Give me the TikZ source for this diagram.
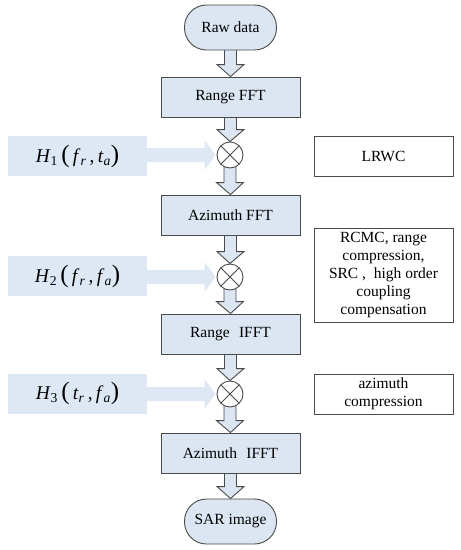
\documentclass[tikz,border=0pt]{standalone}
\usepackage{fontspec}
\setmainfont{Liberation Serif}
\usetikzlibrary{calc}
\pgfdeclarelayer{background}
\pgfsetlayers{background,main}
\definecolor{boxfill}{HTML}{DCE6F2}
\definecolor{hfill}{HTML}{DEE8F4}
\definecolor{boxline}{HTML}{4A4A4A}
\tikzset{
  txt/.style={font=\fontsize{15.5}{18}\selectfont, align=center, inner sep=0pt},
  stepbox/.style={txt, draw=boxline, line width=0.9pt, fill=boxfill, minimum width=139pt, minimum height=40pt},
  termbox/.style={txt, draw=boxline, line width=0.9pt, fill=boxfill, minimum width=92pt, minimum height=45pt, rounded corners=22pt},
  notebox/.style={txt, draw=boxline, line width=0.9pt, fill=white, minimum width=139pt, minimum height=40pt},
  hbox/.style={fill=hfill, minimum width=139pt, minimum height=40pt, inner sep=0pt, font=\fontsize{19.5}{22}\selectfont},
  mult/.style={circle, draw=boxline, line width=0.9pt, fill=white, minimum size=26pt, inner sep=0pt,
    path picture={\draw[boxline, line width=0.9pt] (path picture bounding box.north west) -- (path picture bounding box.south east)
      (path picture bounding box.north east) -- (path picture bounding box.south west);}},
  barrowline/.style={draw=boxline, line width=0.9pt, line join=miter},
}
\newcommand\blockdown[2]{%
  \begin{pgfonlayer}{background}
  \fill[boxfill] let \p1=(#1.center), \p2=(#2.north) in
    (\x1-6pt,\y1) -- (\x1-6pt,\y2+12pt) -- (\x1-13.5pt,\y2+12pt) -- (\x2,\y2)
    -- (\x1+13.5pt,\y2+12pt) -- (\x1+6pt,\y2+12pt) -- (\x1+6pt,\y1) -- cycle;
  \draw[barrowline] let \p1=(#1.center), \p2=(#2.north) in
    (\x1-6pt,\y1) -- (\x1-6pt,\y2+12pt) -- (\x1-13.5pt,\y2+12pt) -- (\x2,\y2)
    -- (\x1+13.5pt,\y2+12pt) -- (\x1+6pt,\y2+12pt) -- (\x1+6pt,\y1);
  \end{pgfonlayer}}
\newcommand\blockright[2]{%
  \begin{pgfonlayer}{background}
  \fill[hfill] let \p1=(#1.center), \p2=(#2.west) in
    (\x1,\y2+7pt) -- (\x2-12pt,\y2+7pt) -- (\x2-12pt,\y2+15pt) -- (\x2-1pt,\y2)
    -- (\x2-12pt,\y2-15pt) -- (\x2-12pt,\y2-7pt) -- (\x1,\y2-7pt) -- cycle;
  \end{pgfonlayer}}
\newcommand\bigparen[1]{{\fontsize{25}{25}\selectfont #1}}
\begin{document}
\begin{tikzpicture}[x=1pt, y=-1pt]
\useasboundingbox (0,0) rectangle (461,550);
\node[termbox] (raw) at (230.5,27.5) {Raw data};
\node[stepbox] (rfft) at (230.5,97) {Range FFT};
\node[mult] (m1) at (230,155) {};
\node[hbox] (h1) at (77.5,156) {\textit{H}\textsubscript{1}\,\bigparen{(}\,\textit{f}\textsubscript{\textit{r}}\,,\,\textit{t}\textsubscript{\textit{a}}\bigparen{)}};
\node[notebox] (lrwc) at (383.5,156) {LRWC};
\node[stepbox] (afft) at (230.5,215) {Azimuth FFT};
\node[mult] (m2) at (230,277) {};
\node[hbox] (h2) at (77.5,276) {\textit{H}\textsubscript{2}\,\bigparen{(}\,\textit{f}\textsubscript{\textit{r}}\,,\,\textit{f}\textsubscript{\textit{a}}\bigparen{)}};
\node[notebox, minimum height=94pt] (c2) at (383.5,275) {RCMC, range\\compression,\\SRC ,\hspace{0.5em}high order\\coupling\\compensation};
\node[stepbox] (rifft) at (230.5,334) {Range\hspace{0.6em}IFFT};
\node[mult] (m3) at (230,394) {};
\node[hbox] (h3) at (77.5,393.5) {\textit{H}\textsubscript{3}\,\bigparen{(}\,\textit{t}\textsubscript{\textit{r}}\,,\,\textit{f}\textsubscript{\textit{a}}\bigparen{)}};
\node[notebox] (c3) at (383.5,394) {azimuth\\compression};
\node[stepbox] (aifft) at (230.5,453) {Azimuth\hspace{0.6em}IFFT};
\node[termbox] (sar) at (230.5,521.5) {SAR image};
\blockdown{raw}{rfft}
\blockdown{rfft}{m1}
\blockdown{m1}{afft}
\blockdown{afft}{m2}
\blockdown{m2}{rifft}
\blockdown{rifft}{m3}
\blockdown{m3}{aifft}
\blockdown{aifft}{sar}
\blockright{h1}{m1}
\blockright{h2}{m2}
\blockright{h3}{m3}
\end{tikzpicture}
\end{document}
